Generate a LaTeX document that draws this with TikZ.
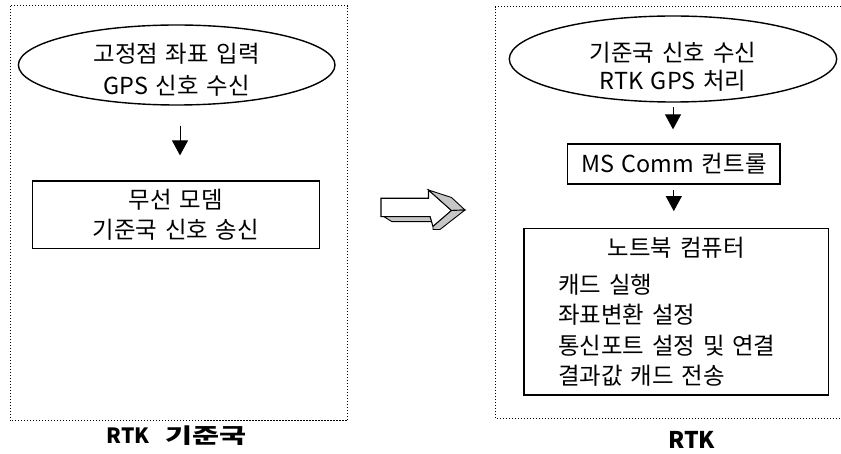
\documentclass[tikz,border=0pt]{standalone}
\usepackage{fontspec}
\usepackage{graphicx}
\setmainfont{Noto Sans CJK KR}[WordSpace=3.33]
\usetikzlibrary{arrows.meta,shapes.geometric}
\tikzset{
  frame/.style={line width=1pt, dash pattern=on 1.2pt off 1.8pt},
  ellbox/.style={draw, ellipse, line width=1.4pt, inner sep=0pt, inner ysep=-8pt, text width=200pt, align=center},
  box/.style={draw, rectangle, line width=1.3pt, inner sep=0pt, align=center},
  flow/.style={line width=1pt, -{Triangle[width=16pt,length=15pt]}},
  caption/.style={font=\bfseries\fontsize{21}{25}\selectfont},
  facet/.style={draw, line width=0.9pt, fill=gray!45}
}

\begin{document}
\begin{tikzpicture}[x=1pt,y=-1pt,font=\fontsize{23.4}{30.5}\selectfont]
\useasboundingbox (0,0) rectangle (841,454);

\draw[frame] (10,6) rectangle (347.7,420.7);
\draw[frame] (841,7) -- (495,7) -- (495,418.3) -- (841,418.3);

\node[ellbox, minimum width=316.6pt, minimum height=80pt] (e1) at (176.7,65)
  {\rule{0pt}{29pt}고정점 좌표 입력\\[1.5pt]GPS 신호 수신};
\node[box, minimum width=287pt, minimum height=67.3pt, text width=287pt] (m1) at (175.8,214.7) {무선 모뎀\\기준국 신호 송신};
\draw[flow, shorten <=20pt, shorten >=25pt] ([xshift=3.3pt]e1.south) -- ([xshift=3.3pt]e1.south |- m1.north);

\node[ellbox, minimum width=327.4pt, minimum height=86pt] (e2) at (673,59)
  {\rule{0pt}{35pt}기준국 신호 수신\\[-2pt]RTK GPS 처리};
\node[box, minimum height=40pt, text width=212.3pt] (c2) at (673.8,164) {MS Comm 컨트롤};
\node[box, minimum height=166.7pt, text width=235.7pt, inner xsep=34.3pt, align=left] (n2) at (676.2,311.7)
  {\makebox[\linewidth]{노트북 컴퓨터}\\[6.3pt]캐드 실행\\좌표변환 설정\\통신포트 설정 및 연결\\결과값 캐드 전송};
\draw[flow, shorten <=4.7pt, shorten >=14pt] (e2.south) -- (e2.south |- c2.north);
\draw[flow, shorten <=5.3pt, shorten >=16.6pt] (c2.south) -- (c2.south |- n2.north);

\node[caption] (l1) at (176.7,435.7) {RTK \scalebox{1.4}[1]{기준국}};
\node[caption, font=\bfseries\fontsize{23}{27}\selectfont] (l2) at (691.7,440) {RTK};

\draw[line width=1.1pt, fill=white] (381,198.3) -- (428.5,198.3) -- (428.5,190) -- (451.5,210.5) -- (433,226.5) -- (430,216.7) -- (381,216.7) -- cycle;
\draw[facet] (428.5,190) -- (451.5,197.5) -- (465,210) -- (451.5,210.5) -- cycle;
\draw[facet] (451.5,210.5) -- (465,210) -- (440,229.5) -- (433,229.5) -- (433,226.5) -- cycle;
\draw[facet] (384,216.7) -- (430,216.7) -- (431.5,221.7) -- (392,221.7) -- cycle;
\end{tikzpicture}
\end{document}
